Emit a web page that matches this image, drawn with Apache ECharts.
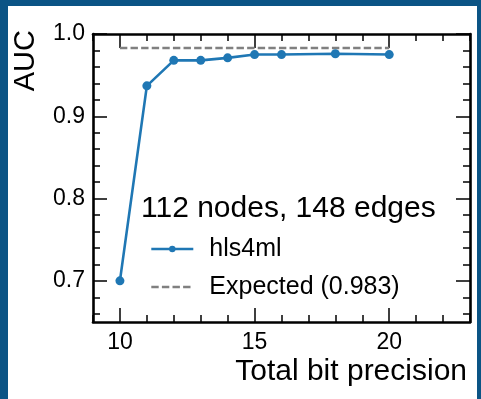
<!DOCTYPE html>
<html>
<head>
<meta charset="utf-8">
<title>AUC vs bit precision</title>
<script src="https://cdn.jsdelivr.net/npm/echarts@6/dist/echarts.min.js"></script>
<style>
  html, body { margin: 0; padding: 0; background: #0b5485; width: 481px; height: 399px; overflow: hidden; }
  #chart { position: absolute; left: 8px; top: 6px; width: 469px; height: 393px; background: #fff; }
</style>
</head>
<body>
<div id="chart"></div>
<script>
// data
var bits = [10, 11, 12, 13, 14, 15, 16, 18, 20];
var auc = [0.700, 0.937, 0.968, 0.968, 0.971, 0.975, 0.975, 0.976, 0.975];
var expectedX = [10, 20];
var expectedAuc = [0.983, 0.983];
var xMajor = [10, 15, 20];
var yMajor = [0.7, 0.8, 0.9, 1.0];

// minor tick positions
var xMinor = [];
for (var i = 9; i <= 23; i++) xMinor.push(i);
var yMinor = [];
for (var k = 33; k <= 50; k++) yMinor.push(k / 50);

var FONT = '"Liberation Sans", Arial, Helvetica, sans-serif';

function axis(dim, pos, ticks, len, labels, showLine) {
  var a = {
    type: 'value',
    position: pos,
    min: dim === 'x' ? 9 : 0.65,
    max: dim === 'x' ? 23 : 1.0,
    axisLine: { show: showLine, lineStyle: { color: '#000', width: 2.6 } },
    axisTick: { show: true, inside: true, length: len, customValues: ticks,
                lineStyle: { color: '#000', width: 1.5 } },
    axisLabel: { show: !!labels },
    splitLine: { show: false }
  };
  if (labels) {
    a.axisLabel = {
      show: true, customValues: labels, color: '#000', fontSize: 23, fontFamily: FONT,
      margin: dim === 'x' ? 9 : 8,
      formatter: dim === 'x' ? '{value}' : function (v) { return v.toFixed(1); }
    };
  }
  return a;
}

var chart = echarts.init(document.getElementById('chart'));
chart.setOption({
  animation: false,
  grid: { left: 85, right: 7, top: 28, bottom: 77 },
  xAxis: [
    axis('x', 'bottom', xMajor, 14, xMajor, true),
    axis('x', 'bottom', xMinor, 7, null, false),
    axis('x', 'top', xMajor, 14, null, true),
    axis('x', 'top', xMinor, 7, null, false)
  ],
  yAxis: [
    axis('y', 'left', yMajor, 14, yMajor, true),
    axis('y', 'left', yMinor, 7, null, false),
    axis('y', 'right', yMajor, 14, null, true),
    axis('y', 'right', yMinor, 7, null, false)
  ],
  title: {
    text: '112 nodes, 148 edges',
    left: 128, top: 183,
    textStyle: { color: '#000', fontSize: 30, fontWeight: 'normal', fontFamily: FONT }
  },
  legend: {
    orient: 'vertical',
    left: 137, top: 224,
    itemWidth: 42, itemHeight: 8, itemGap: 10,
    textStyle: { color: '#000', fontSize: 25, fontFamily: FONT, lineHeight: 28, padding: [0, 0, 0, 11] },
    data: [
      { name: 'hls4ml', lineStyle: { width: 2.6 } },
      { name: 'Expected (0.983)', itemStyle: { opacity: 0 }, lineStyle: { width: 2.6 } }
    ]
  },
  graphic: [
    { type: 'text', x: 18, y: 24, rotation: Math.PI / 2,
      style: { text: 'AUC', fill: '#000', font: '29px ' + FONT, textAlign: 'right', textVerticalAlign: 'middle' } },
    { type: 'text', x: 459, y: 366,
      style: { text: 'Total bit precision', fill: '#000', font: '30px ' + FONT, textAlign: 'right', textVerticalAlign: 'middle' } }
  ],
  series: [
    {
      name: 'hls4ml', type: 'line',
      data: bits.map(function (b, i) { return [b, auc[i]]; }),
      symbol: 'circle', symbolSize: 9,
      lineStyle: { color: '#1f77b4', width: 2.6 },
      itemStyle: { color: '#1f77b4' }
    },
    {
      name: 'Expected (0.983)', type: 'line',
      data: expectedX.map(function (x, i) { return [x, expectedAuc[i]]; }),
      symbol: 'none',
      lineStyle: { color: '#808080', width: 2.6, type: [7.4, 3.2] },
      itemStyle: { color: '#808080' }
    }
  ]
});
</script>
</body>
</html>
